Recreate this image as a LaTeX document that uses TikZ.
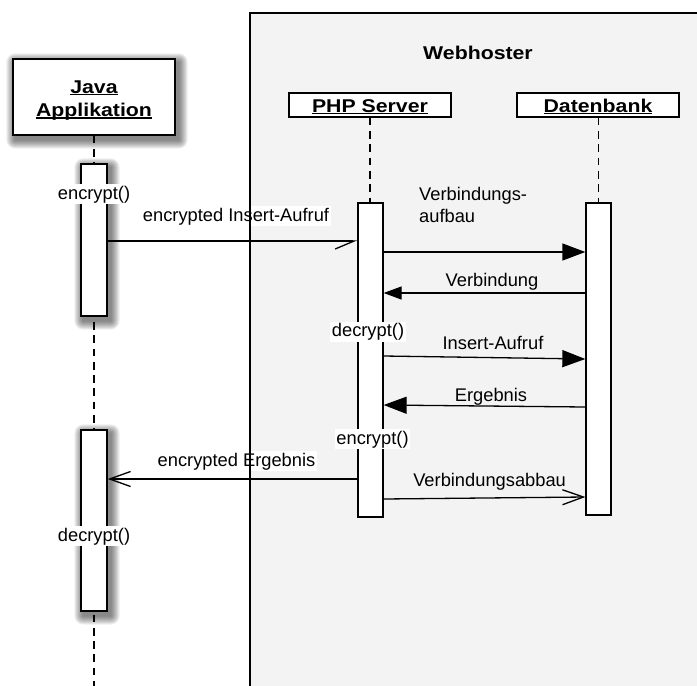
\documentclass[tikz,border=0pt]{standalone}
\usepackage{fontspec}
\setmainfont{Liberation Sans}
\newfontfamily\headfont{Liberation Sans}[FakeStretch=1.15]
\usetikzlibrary{arrows.meta,calc}

% underlined title text, rule sits just below the baseline
\newcommand\ulbox[1]{\setbox0\hbox{#1}\rlap{\rule[-2pt]{\wd0}{1.5pt}}\box0}

% soft shadow under a node: stacked translucent rectangles, offset down-right
\newcommand\softshade[1]{%
  \begin{pgfonlayer}{shade}
    \foreach \g in {0,1,...,8}{%
      \fill[black, opacity=0.065, rounded corners={(9-\g)*1pt}]
        ($(#1.north west)+(3-9+\g, 4-9+\g)$) rectangle
        ($(#1.south east)+(3+9-\g, 4+9-\g)$);
    }%
  \end{pgfonlayer}}

\definecolor{hostgray}{RGB}{243,243,243}

\pgfdeclarelayer{back}
\pgfdeclarelayer{shade}
\pgfsetlayers{back,shade,main}

\tikzset{
  lbl/.style={font=\fontsize{18.3}{22}\selectfont, inner sep=0pt, anchor=base},
  wlbl/.style={lbl, fill=white, inner sep=1.5pt},
  head/.style={font=\headfont\bfseries\fontsize{18.5}{23.4}\selectfont, inner sep=0pt, anchor=base},
  objbox/.style={draw, line width=1.4pt, fill=white, inner sep=0pt},
  actbar/.style={draw, line width=1.3pt, fill=white, inner sep=0pt, minimum width=26pt},
  life/.style={line width=1.3pt, dash pattern=on 7.7pt off 5.6pt},
  msg/.style={line width=1.3pt},
  sync/.style={msg, -{Triangle[length=23pt,width=17pt]}},
  syncsmall/.style={msg, -{Triangle[length=18pt,width=13pt]}},
  async/.style={msg, -{Straight Barb[length=21pt,width=15pt]}},
  halfasync/.style={msg, -{Straight Barb[right,length=19pt,width=16pt]}},
}

\begin{document}
\begin{tikzpicture}[x=1pt, y=-1pt]
\useasboundingbox (0,0) rectangle (697,686);
\clip (0,0) rectangle (697,686);

% hosting environment
\begin{pgfonlayer}{back}
  \fill[hostgray] (250,13) rectangle (720,720);
\end{pgfonlayer}
\node[head] (host) at (478,59) {Webhoster};

% participants
\node[objbox, minimum width=162pt, minimum height=76pt] (java) at (94,97) {};
\softshade{java}
\node[head] (javaA) at (94,93.3) {\ulbox{Java}};
\node[head] (javaB) at (94,116.7) {\ulbox{Applikation}};

\node[objbox, minimum width=162pt, minimum height=24pt] (php) at (370,105) {};
\node[head] (phpT) at (370,112) {\ulbox{PHP Server}};

\node[objbox, minimum width=162pt, minimum height=24pt] (db) at (598,105) {};
\node[head] (dbT) at (598,112) {\ulbox{Datenbank}};

% lifelines
\coordinate (javaEnd) at (94,690);
\draw[life] (java.south) -- (javaEnd);
\coordinate (phpLife) at (370,203);
\coordinate (dbLife) at (598.5,203);
\draw[life] (php.south) -- (phpLife);
\draw[life] (db.south -| dbLife) -- (dbLife);

% activation bars
\node[actbar, minimum height=152pt] (ja1) at (94,240) {};
\node[actbar, minimum height=181pt] (ja2) at (94,520.5) {};
\softshade{ja1}
\softshade{ja2}
\node[actbar, minimum width=25pt, minimum height=314pt] (pa) at (370.5,360) {};
\node[actbar, minimum width=25pt, minimum height=312pt] (da) at (598.5,359) {};

% local operations
\node[wlbl] (enc1) at (94,199) {encrypt()};
\node[wlbl] (dec1) at (368,336.7) {decrypt()};
\node[wlbl] (enc2) at (372.5,444) {encrypt()};
\node[wlbl] (dec2) at (94,541) {decrypt()};

% messages
\draw[halfasync] (ja1.east |- 0,241) -- (pa.west |- 0,241);
\node[wlbl] (m1) at (236,221) {encrypted Insert-Aufruf};

\draw[sync] (pa.east |- 0,252) -- (da.west |- 0,252);
\node[lbl, anchor=base west, align=left] (m2) at (419,222) {Verbindungs-\\aufbau};

\draw[syncsmall] (da.west |- 0,293) -- (pa.east |- 0,293);
\node[lbl] (m3) at (492,286) {Verbindung};

\draw[sync] (pa.east |- 0,356) -- (da.west |- 0,359);
\node[lbl] (m4) at (493,349) {Insert-Aufruf};

\draw[sync] (da.west |- 0,407) -- (pa.east |- 0,405);
\node[lbl] (m5) at (491,401) {Ergebnis};

\draw[async] (pa.west |- 0,479) -- (ja2.east |- 0,479);
\node[wlbl] (m6) at (236.5,466) {encrypted Ergebnis};

\draw[async] (pa.east |- 0,499) -- (da.west |- 0,497);
\node[lbl] (m7) at (489.6,486) {Verbindungsabbau};

% border of the hosting environment
\draw[line width=1.7pt] (250,720) -- (250,13) -- (720,13);
\end{tikzpicture}
\end{document}
